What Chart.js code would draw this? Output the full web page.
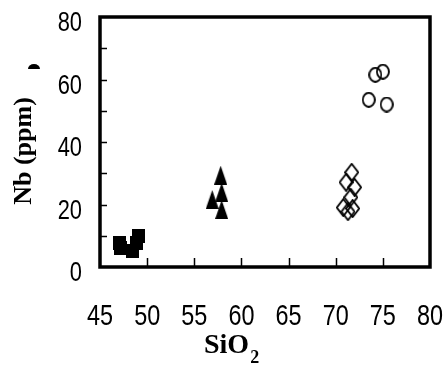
<!DOCTYPE html>
<html>
<head>
<meta charset="utf-8">
<script src="https://cdn.jsdelivr.net/npm/chart.js@4.4.1/dist/chart.umd.min.js"></script>
<style>
  html, body { margin: 0; padding: 0; background: #fff; }
  #wrap { width: 446px; height: 375px; }
</style>
</head>
<body>
<div id="wrap"><canvas id="chart" width="446" height="375"></canvas></div>
<script>
// axis ranges / ticks
const xMin = 45, xMax = 80, xStep = 5;
const yMin = 0, yMax = 80, yStep = 10, yLabelStep = 20;

// squares (filled)
const squareSiO2 = [47.1, 47.2, 48.4, 49.1, 48.9];
const squareNb = [7.7, 6.1, 5.2, 10.0, 7.7];
// triangles (filled)
const triangleSiO2 = [57.8, 56.9, 57.9, 57.9];
const triangleNb = [29.4, 21.6, 23.9, 18.4];
// diamonds (open)
const diamondSiO2 = [71.7, 71.1, 72.0, 71.6, 70.8, 71.3, 71.8];
const diamondNb = [30.3, 27.1, 25.5, 22.3, 19.0, 17.7, 18.7];
// circles (open)
const circleSiO2 = [74.2, 75.0, 73.5, 75.4];
const circleNb = [61.5, 62.5, 53.5, 52.0];

const tickFont = "'Liberation Sans', Arial, sans-serif";
const titleFont = "'Liberation Serif', 'Times New Roman', serif";
// the original numbers are a squeezed Arial
const squeeze = 0.78;

//build little marker images, a bit taller than wide like the original
function makeMarker(w, h, draw) {
  const c = document.createElement('canvas');
  c.width = w;
  c.height = h;
  const g = c.getContext('2d');
  g.fillStyle = '#000';
  g.strokeStyle = '#000';
  g.lineWidth = 1.8;
  draw(g, w, h);
  return c;
}
const squareImg = makeMarker(13, 14, (g, w, h) => g.fillRect(0, 0, w, h));
const triangleImg = makeMarker(13, 19, (g, w, h) => {
  g.beginPath();
  g.moveTo(w / 2, 0);
  g.lineTo(w, h);
  g.lineTo(0, h);
  g.closePath();
  g.fill();
});
const diamondImg = makeMarker(15, 19, (g, w, h) => {
  g.beginPath();
  g.moveTo(w / 2, 1);
  g.lineTo(w - 1, h / 2);
  g.lineTo(w / 2, h - 1);
  g.lineTo(1, h / 2);
  g.closePath();
  g.stroke();
});
const circleImg = makeMarker(14, 16, (g, w, h) => {
  g.beginPath();
  g.ellipse(w / 2, h / 2, w / 2 - 1, h / 2 - 1, 0, 0, Math.PI * 2);
  g.stroke();
});

function toPoints(xs, ys) {
  return xs.map((x, i) => ({ x: x, y: ys[i] }));
}

function squeezedText(ctx, text, x, y, align) {
  ctx.save();
  ctx.translate(x, y);
  ctx.scale(squeeze, 1);
  ctx.textAlign = align;
  ctx.fillText(text, 0, 0);
  ctx.restore();
}

// frame, inside tick marks, tick labels and the axis titles
const framePlugin = {
  id: 'frame',
  afterDraw(chart) {
    const ctx = chart.ctx;
    const a = chart.chartArea;
    const xs = chart.scales.x;
    const ys = chart.scales.y;
    ctx.save();
    ctx.strokeStyle = '#000';
    ctx.fillStyle = '#000';
    ctx.lineWidth = 1.5;
    ctx.beginPath();
    xs.ticks.forEach((t) => {
      if (t.value === xMin || t.value === xMax) return;
      const px = Math.round(xs.getPixelForValue(t.value)) + 0.5;
      ctx.moveTo(px, a.bottom);
      ctx.lineTo(px, a.bottom - 9);
    });
    ys.ticks.forEach((t) => {
      if (t.value === yMin || t.value === yMax) return;
      const py = Math.round(ys.getPixelForValue(t.value)) + 0.5;
      ctx.moveTo(a.left, py);
      ctx.lineTo(a.left + 7, py);
    });
    ctx.stroke();

    ctx.lineWidth = 3.5;
    ctx.strokeRect(a.left, a.top, a.right - a.left, a.bottom - a.top);

    //tick labels
    ctx.font = '30px ' + tickFont;
    ctx.textBaseline = 'alphabetic';
    xs.ticks.forEach((t) => {
      squeezedText(ctx, String(t.value), xs.getPixelForValue(t.value), 325, 'center');
    });
    ctx.font = '28px ' + tickFont;
    ys.ticks.forEach((t) => {
      if (t.value % yLabelStep !== 0) return;
      squeezedText(ctx, String(t.value), 82, ys.getPixelForValue(t.value) + 14, 'right');
    });

    //y title
    ctx.save();
    ctx.translate(31, 151);
    ctx.rotate(-Math.PI / 2);
    ctx.font = 'bold 26px ' + titleFont;
    ctx.textAlign = 'center';
    ctx.fillText('Nb (ppm)', 0, 0);
    ctx.restore();

    // stray blob next to the y title in the original
    ctx.beginPath();
    ctx.ellipse(34, 69, 6, 5, 0, Math.PI, Math.PI * 2);
    ctx.fill();

    //x title with subscript
    ctx.font = 'bold 28px ' + titleFont;
    ctx.textAlign = 'left';
    ctx.fillText('SiO', 204, 353);
    const w = ctx.measureText('SiO').width;
    ctx.font = 'bold 18px ' + titleFont;
    ctx.fillText('2', 204 + w + 1, 363);
    ctx.restore();
  },
};

new Chart(document.getElementById('chart'), {
  type: 'scatter',
  data: {
    datasets: [
      { data: toPoints(squareSiO2, squareNb), pointStyle: squareImg },
      { data: toPoints(triangleSiO2, triangleNb), pointStyle: triangleImg },
      { data: toPoints(diamondSiO2, diamondNb), pointStyle: diamondImg },
      { data: toPoints(circleSiO2, circleNb), pointStyle: circleImg },
    ],
  },
  options: {
    responsive: false,
    animation: false,
    events: [],
    layout: { autoPadding: false, padding: { top: 17, right: 16, left: 0, bottom: 0 } },
    plugins: { legend: { display: false }, tooltip: { enabled: false } },
    scales: {
      x: {
        type: 'linear',
        min: xMin,
        max: xMax,
        grid: { display: false, drawTicks: false },
        border: { display: false },
        ticks: { stepSize: xStep, display: false },
        afterFit(scale) {
          scale.height = 108;
        },
      },
      y: {
        type: 'linear',
        min: yMin,
        max: yMax,
        grid: { display: false, drawTicks: false },
        border: { display: false },
        ticks: { stepSize: yStep, display: false },
        afterFit(scale) {
          scale.width = 100;
        },
      },
    },
  },
  plugins: [framePlugin],
});
</script>
</body>
</html>
